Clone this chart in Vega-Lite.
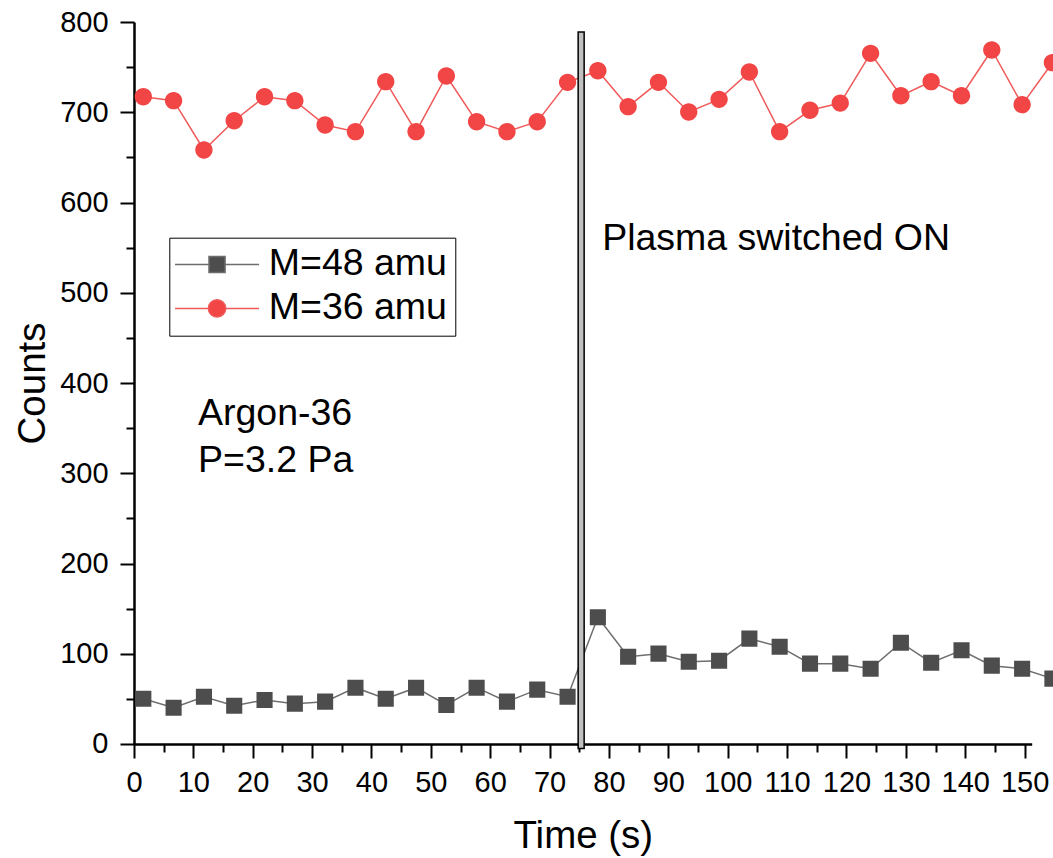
{
  "$schema": "https://vega.github.io/schema/vega-lite/v6.json",
  "autosize": "none",
  "padding": {"left": 134, "top": 22, "right": 21, "bottom": 114},
  "width": 897.7,
  "height": 722,
  "background": "white",
  "config": {
    "view": {"stroke": null},
    "font": "Liberation Sans",
    "axis": {
      "grid": false,
      "domainColor": "black",
      "tickColor": "black",
      "labelColor": "black",
      "titleColor": "black",
      "labelFont": "Liberation Sans",
      "titleFont": "Liberation Sans",
      "labelFontSize": 29,
      "titleFontSize": 38.5,
      "titleFontWeight": "normal",
      "domainWidth": 2.5,
      "tickWidth": 2,
      "labelFlush": false,
      "labelOverlap": false
    },
    "legend": {
      "title": null,
      "orient": "none",
      "legendX": 35.3,
      "legendY": 215.7,
      "strokeColor": "black",
      "padding": 8,
      "fillColor": "white",
      "labelFont": "Liberation Sans",
      "labelFontSize": 37.5,
      "labelColor": "black",
      "labelLimit": 400,
      "symbolSize": 300,
      "symbolStrokeWidth": 1.5,
      "symbolOffset": 21,
      "labelOffset": 33,
      "rowPadding": 5
    }
  },
  "datasets": {
    "series": [
      {"t": 1.57, "c": 50.2, "s": "M=48 amu"},
      {"t": 6.67, "c": 40.2, "s": "M=48 amu"},
      {"t": 11.78, "c": 52.4, "s": "M=48 amu"},
      {"t": 16.88, "c": 42.4, "s": "M=48 amu"},
      {"t": 21.99, "c": 48.8, "s": "M=48 amu"},
      {"t": 27.09, "c": 44.7, "s": "M=48 amu"},
      {"t": 32.19, "c": 46.9, "s": "M=48 amu"},
      {"t": 37.30, "c": 62.4, "s": "M=48 amu"},
      {"t": 42.40, "c": 50.2, "s": "M=48 amu"},
      {"t": 47.51, "c": 62.4, "s": "M=48 amu"},
      {"t": 52.61, "c": 43.2, "s": "M=48 amu"},
      {"t": 57.71, "c": 62.4, "s": "M=48 amu"},
      {"t": 62.82, "c": 46.9, "s": "M=48 amu"},
      {"t": 67.92, "c": 60.2, "s": "M=48 amu"},
      {"t": 73.03, "c": 52.4, "s": "M=48 amu"},
      {"t": 78.13, "c": 140.4, "s": "M=48 amu"},
      {"t": 83.23, "c": 96.7, "s": "M=48 amu"},
      {"t": 88.34, "c": 100.1, "s": "M=48 amu"},
      {"t": 93.44, "c": 91.2, "s": "M=48 amu"},
      {"t": 98.55, "c": 92.3, "s": "M=48 amu"},
      {"t": 103.65, "c": 116.7, "s": "M=48 amu"},
      {"t": 108.75, "c": 107.8, "s": "M=48 amu"},
      {"t": 113.86, "c": 89.0, "s": "M=48 amu"},
      {"t": 118.96, "c": 89.0, "s": "M=48 amu"},
      {"t": 124.07, "c": 83.4, "s": "M=48 amu"},
      {"t": 129.17, "c": 112.2, "s": "M=48 amu"},
      {"t": 134.27, "c": 90.1, "s": "M=48 amu"},
      {"t": 139.38, "c": 103.8, "s": "M=48 amu"},
      {"t": 144.48, "c": 86.8, "s": "M=48 amu"},
      {"t": 149.59, "c": 83.4, "s": "M=48 amu"},
      {"t": 154.69, "c": 72.4, "s": "M=48 amu"},
      {"t": 1.57, "c": 717.2, "s": "M=36 amu"},
      {"t": 6.67, "c": 712.8, "s": "M=36 amu"},
      {"t": 11.78, "c": 658.2, "s": "M=36 amu"},
      {"t": 16.88, "c": 690.6, "s": "M=36 amu"},
      {"t": 21.99, "c": 717.2, "s": "M=36 amu"},
      {"t": 27.09, "c": 712.8, "s": "M=36 amu"},
      {"t": 32.19, "c": 685.9, "s": "M=36 amu"},
      {"t": 37.30, "c": 678.5, "s": "M=36 amu"},
      {"t": 42.40, "c": 733.9, "s": "M=36 amu"},
      {"t": 47.51, "c": 678.5, "s": "M=36 amu"},
      {"t": 52.61, "c": 740.2, "s": "M=36 amu"},
      {"t": 57.71, "c": 689.5, "s": "M=36 amu"},
      {"t": 62.82, "c": 678.5, "s": "M=36 amu"},
      {"t": 67.92, "c": 689.5, "s": "M=36 amu"},
      {"t": 73.03, "c": 733.2, "s": "M=36 amu"},
      {"t": 78.13, "c": 746.0, "s": "M=36 amu"},
      {"t": 83.23, "c": 706.2, "s": "M=36 amu"},
      {"t": 88.34, "c": 733.2, "s": "M=36 amu"},
      {"t": 93.44, "c": 700.3, "s": "M=36 amu"},
      {"t": 98.55, "c": 714.3, "s": "M=36 amu"},
      {"t": 103.65, "c": 744.6, "s": "M=36 amu"},
      {"t": 108.75, "c": 678.5, "s": "M=36 amu"},
      {"t": 113.86, "c": 702.2, "s": "M=36 amu"},
      {"t": 118.96, "c": 710.2, "s": "M=36 amu"},
      {"t": 124.07, "c": 765.3, "s": "M=36 amu"},
      {"t": 129.17, "c": 718.3, "s": "M=36 amu"},
      {"t": 134.27, "c": 733.9, "s": "M=36 amu"},
      {"t": 139.38, "c": 718.3, "s": "M=36 amu"},
      {"t": 144.48, "c": 769.0, "s": "M=36 amu"},
      {"t": 149.59, "c": 708.4, "s": "M=36 amu"},
      {"t": 154.69, "c": 754.9, "s": "M=36 amu"}
    ],
    "bar": [{"t0": 74.81, "t1": 75.82, "c0": -5, "c1": 789}],
    "notes": [
      {"t": 78.85, "c": 547.4, "label": "Plasma switched ON"},
      {"t": 10.78, "c": 353.5, "label": "Argon-36"},
      {"t": 10.78, "c": 301.7, "label": "P=3.2 Pa"}
    ]
  },
  "resolve": {"axis": {"x": "independent", "y": "independent"}},
  "layer": [
    {
      "data": {"name": "series"},
      "mark": {"type": "line", "strokeWidth": 1.5},
      "encoding": {
        "x": {"field": "t", "type": "quantitative", "scale": {"domain": [0, 151.2], "nice": false, "zero": false}, "axis": null},
        "y": {"field": "c", "type": "quantitative", "scale": {"domain": [0, 800], "nice": false}, "axis": null},
        "detail": {"field": "s"},
        "stroke": {"field": "s", "type": "nominal", "scale": {"domain": ["M=48 amu", "M=36 amu"], "range": ["#6e6e6e", "#f05a5a"]}}
      }
    },
    {
      "data": {"name": "series"},
      "mark": {"type": "point", "filled": true, "opacity": 1, "size": 300},
      "encoding": {
        "x": {"field": "t", "type": "quantitative", "scale": {"domain": [0, 151.2], "nice": false, "zero": false}, "axis": null},
        "y": {"field": "c", "type": "quantitative", "scale": {"domain": [0, 800], "nice": false}, "axis": null},
        "color": {
          "field": "s", "type": "nominal",
          "scale": {"domain": ["M=48 amu", "M=36 amu"], "range": ["#4d4d4d", "#f24545"]}
        },
        "shape": {
          "field": "s", "type": "nominal",
          "scale": {"domain": ["M=48 amu", "M=36 amu"], "range": ["M-4.85,0H-0.93M0.93,0H4.85M-0.93,-0.93H0.93V0.93H-0.93Z", "M-4.85,0H-1M1,0H4.85M-1,0A1,1,0,1,1,1,0A1,1,0,1,1,-1,0Z"]}
        }
      }
    },
    {
      "data": {"name": "bar"},
      "mark": {"type": "rect", "fill": "#c0c0c0", "stroke": "black", "strokeWidth": 1.5},
      "encoding": {
        "x": {
          "field": "t0", "type": "quantitative", "scale": {"domain": [0, 151.2], "nice": false, "zero": false},
          "axis": {"orient": "bottom", "values": [0, 10, 20, 30, 40, 50, 60, 70, 80, 90, 100, 110, 120, 130, 140, 150], "tickSize": 14, "labelPadding": 11, "title": "Time (s)", "titlePadding": 20}
        },
        "x2": {"field": "t1"},
        "y": {
          "field": "c0", "type": "quantitative", "scale": {"domain": [0, 800], "nice": false},
          "axis": {"orient": "left", "values": [0, 100, 200, 300, 400, 500, 600, 700, 800], "tickSize": 14, "labelPadding": 12, "title": "Counts", "titlePadding": 7}
        },
        "y2": {"field": "c1"}
      }
    },
    {
      "data": {"name": "notes"},
      "mark": {"type": "text", "align": "left", "baseline": "alphabetic", "fontSize": 37.5, "font": "Liberation Sans", "color": "black"},
      "encoding": {
        "x": {"field": "t", "type": "quantitative", "scale": {"domain": [0, 151.2], "nice": false, "zero": false}, "axis": null},
        "y": {"field": "c", "type": "quantitative", "scale": {"domain": [0, 800], "nice": false}, "axis": null},
        "text": {"field": "label"}
      }
    },
    {
      "data": {"name": "bar"},
      "mark": {"type": "point", "opacity": 0},
      "encoding": {
        "x": {
          "field": "t0", "type": "quantitative", "scale": {"domain": [0, 151.2], "nice": false, "zero": false},
          "axis": {"orient": "bottom", "values": [5, 15, 25, 35, 45, 55, 65, 75, 85, 95, 105, 115, 125, 135, 145], "tickSize": 8, "labels": false, "domain": false, "title": null}
        },
        "y": {
          "field": "c0", "type": "quantitative", "scale": {"domain": [0, 800], "nice": false},
          "axis": {"orient": "left", "values": [50, 150, 250, 350, 450, 550, 650, 750], "tickSize": 8, "labels": false, "domain": false, "title": null}
        }
      }
    }
  ]
}
